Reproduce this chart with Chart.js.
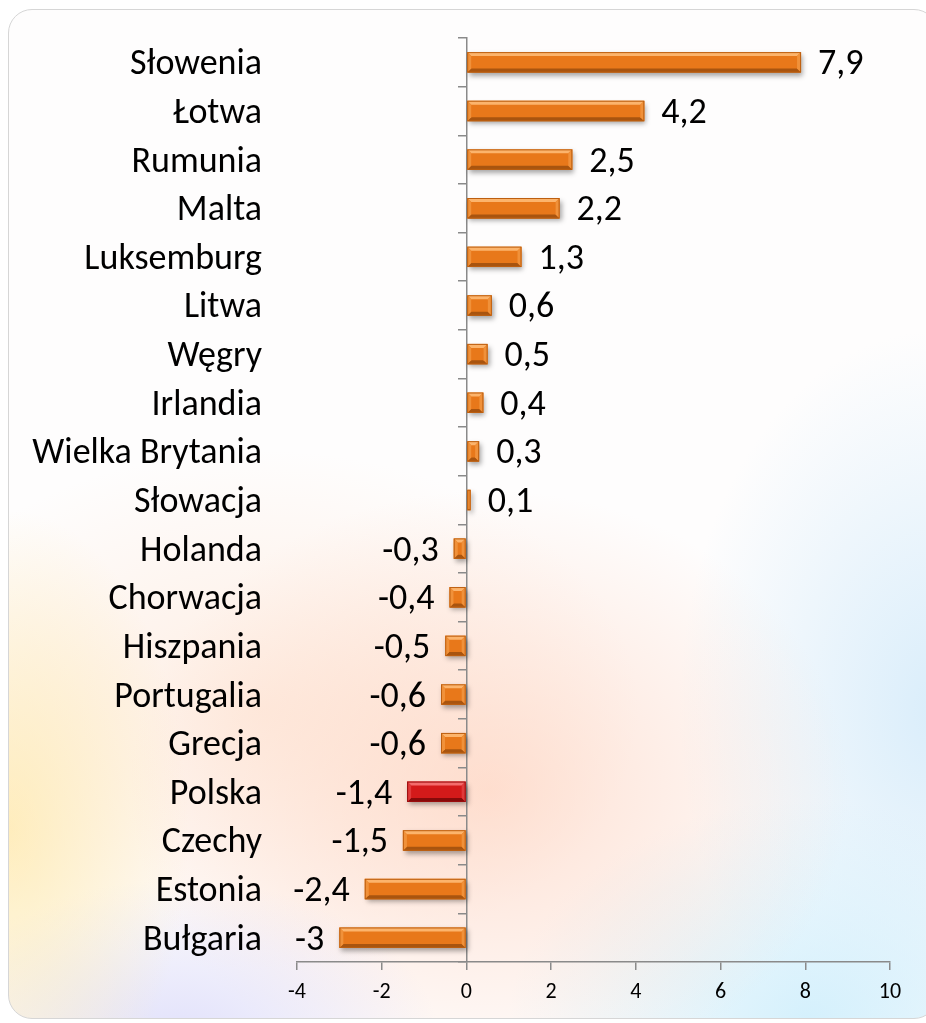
<!DOCTYPE html>
<html>
<head>
<meta charset="utf-8">
<script src="https://cdn.jsdelivr.net/npm/chart.js@4.4.1/dist/chart.umd.min.js"></script>
<style>
  html, body { margin: 0; padding: 0; background: #ffffff; }
  #wrap { position: relative; width: 926px; height: 1023px; overflow: hidden; }
  #panel {
    position: absolute; left: 8px; top: 9px; width: 930px; height: 1010px;
    border: 1.5px solid #d6d6d6; border-radius: 24px; box-sizing: border-box;
    background:
      radial-gradient(ellipse 180px 320px at 0px 820px, rgba(255,228,150,0.6), rgba(255,228,150,0) 100%),
      radial-gradient(ellipse 260px 160px at 170px 1030px, rgba(215,215,250,0.75), rgba(215,215,250,0) 100%),
      radial-gradient(ellipse 360px 300px at 480px 780px, rgba(255,200,175,0.55), rgba(255,200,175,0) 100%),
      radial-gradient(ellipse 300px 220px at 800px 1010px, rgba(205,238,252,0.85), rgba(205,238,252,0) 100%),
      radial-gradient(ellipse 260px 380px at 930px 700px, rgba(205,232,250,0.75), rgba(205,232,250,0) 100%),
      radial-gradient(ellipse 380px 260px at 250px 700px, rgba(255,222,200,0.5), rgba(255,222,200,0) 100%),
      #fefdfd;
  }
  #c { position: absolute; left: 0; top: 0; }
</style>
</head>
<body>
<div id="wrap">
  <div id="panel"></div>
  <canvas id="c" width="926" height="1023"></canvas>
</div>
<script>
const categories = ['Słowenia','Łotwa','Rumunia','Malta','Luksemburg','Litwa','Węgry','Irlandia','Wielka Brytania','Słowacja','Holanda','Chorwacja','Hiszpania','Portugalia','Grecja','Polska','Czechy','Estonia','Bułgaria'];
const values = [7.9, 4.2, 2.5, 2.2, 1.3, 0.6, 0.5, 0.4, 0.3, 0.1, -0.3, -0.4, -0.5, -0.6, -0.6, -1.4, -1.5, -2.4, -3];
const highlighted = 'Polska';
const xTicks = [-4, -2, 0, 2, 4, 6, 8, 10];

const FONT = "Carlito, Calibri, Lato, 'Open Sans', sans-serif";
const ORANGE = { face: '#e8781a', top: '#fcb46c', bottom: '#a8540f', side: '#f0913a', border: '#bd5f10' };
const RED = { face: '#d41a1a', top: '#f36c6c', bottom: '#870a0a', side: '#e03a3a', border: '#9a0d0d' };
const pal = i => categories[i] === highlighted ? RED : ORANGE;

const shadowPlugin = {
  id: 'barShadow',
  beforeDatasetsDraw(chart) {
    const ctx = chart.ctx;
    ctx.save();
    ctx.shadowColor = 'rgba(0,0,0,0.35)';
    ctx.shadowBlur = 5;
    ctx.shadowOffsetX = 2;
    ctx.shadowOffsetY = 3;
  },
  afterDatasetsDraw(chart) {
    chart.ctx.restore();
    const ctx = chart.ctx;
    const meta = chart.getDatasetMeta(0);
    ctx.save();
    meta.data.forEach((el, i) => {
      const p = el.getProps(['x', 'y', 'base', 'height'], true);
      const l = Math.min(p.x, p.base), r = Math.max(p.x, p.base);
      const t = p.y - p.height / 2, b = p.y + p.height / 2;
      const w = r - l;
      const bv = Math.min(4, w / 2, p.height / 2);
      const c = pal(i);
      if (w < 1) return;
      ctx.fillStyle = c.top;
      ctx.beginPath(); ctx.moveTo(l, t); ctx.lineTo(r, t); ctx.lineTo(r - bv, t + bv); ctx.lineTo(l + bv, t + bv); ctx.closePath(); ctx.fill();
      ctx.fillStyle = c.bottom;
      ctx.beginPath(); ctx.moveTo(l, b); ctx.lineTo(r, b); ctx.lineTo(r - bv, b - bv); ctx.lineTo(l + bv, b - bv); ctx.closePath(); ctx.fill();
      ctx.fillStyle = c.side;
      ctx.beginPath(); ctx.moveTo(l, t); ctx.lineTo(l + bv, t + bv); ctx.lineTo(l + bv, b - bv); ctx.lineTo(l, b); ctx.closePath(); ctx.fill();
      ctx.beginPath(); ctx.moveTo(r, t); ctx.lineTo(r - bv, t + bv); ctx.lineTo(r - bv, b - bv); ctx.lineTo(r, b); ctx.closePath(); ctx.fill();
      ctx.strokeStyle = c.border; ctx.lineWidth = 1;
      ctx.strokeRect(l + 0.5, t + 0.5, w - 1, p.height - 1);
    });
    ctx.restore();
  }
};

const valueLabels = {
  id: 'valueLabels',
  afterDraw(chart) {
    const ctx = chart.ctx;
    const meta = chart.getDatasetMeta(0);
    ctx.save();
    ctx.font = `36px ${FONT}`;
    ctx.fillStyle = '#000';
    ctx.textBaseline = 'middle';
    meta.data.forEach((el, i) => {
      const v = values[i];
      const txt = String(v).replace('.', ',');
      if (v >= 0) { ctx.textAlign = 'left'; ctx.fillText(txt, el.x + 17, el.y + 3); }
      else { ctx.textAlign = 'right'; ctx.fillText(txt, el.x - 15, el.y + 3); }
    });
    ctx.restore();
  }
};

new Chart(document.getElementById('c'), {
  type: 'bar',
  data: {
    labels: categories,
    datasets: [{
      data: values,
      backgroundColor: ctx => pal(ctx.dataIndex).face,
      borderWidth: 0,
      barPercentage: 0.5,
      categoryPercentage: 0.84
    }]
  },
  options: {
    indexAxis: 'y',
    responsive: false,
    animation: false,
    layout: { padding: { top: 38, right: 36, left: 0, bottom: 0 } },
    plugins: { legend: { display: false }, tooltip: { enabled: false } },
    scales: {
      x: {
        type: 'linear',
        min: xTicks[0], max: xTicks[xTicks.length - 1],
        afterBuildTicks: s => { s.ticks = xTicks.map(v => ({ value: v })); },
        afterFit: s => { s.height = 61; s.paddingLeft = 0; s.paddingRight = 0; },
        grid: { drawOnChartArea: false, drawTicks: true, tickLength: 8, color: '#8a8a8a', lineWidth: 1.5 },
        border: { display: true, color: '#8a8a8a', width: 1.5 },
        ticks: { color: '#000', font: { family: FONT, size: 22 }, padding: 9, maxRotation: 0 }
      },
      y: {
        type: 'category',
        position: 'left',
        afterFit: s => { s.width = 297; s.paddingTop = 0; s.paddingBottom = 0; },
        grid: { display: false, drawTicks: false },
        border: { display: false },
        ticks: { color: '#000', font: { family: FONT, size: 36 }, padding: 35, autoSkip: false, labelOffset: 3 }
      },
      y2: {
        type: 'category',
        axis: 'y',
        labels: categories,
        position: { x: 0 },
        offset: true,
        grid: { offset: true, drawOnChartArea: false, drawTicks: true, tickLength: 8, color: '#8a8a8a', lineWidth: 1.5 },
        border: { display: true, color: '#8a8a8a', width: 1.5 },
        ticks: { display: false }
      }
    }
  },
  plugins: [shadowPlugin, valueLabels]
});
</script>
</body>
</html>
